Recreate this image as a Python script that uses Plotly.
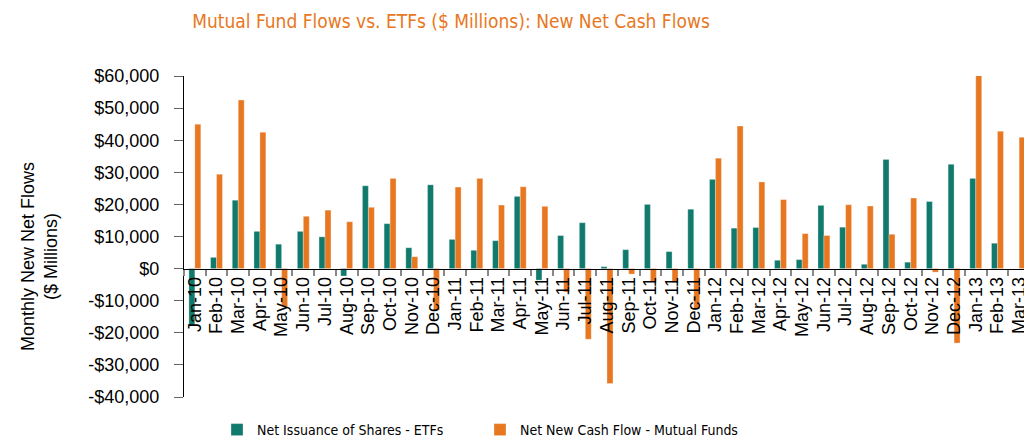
import plotly.graph_objects as go

months = ["Jan-10","Feb-10","Mar-10","Apr-10","May-10","Jun-10","Jul-10","Aug-10","Sep-10","Oct-10","Nov-10","Dec-10",
          "Jan-11","Feb-11","Mar-11","Apr-11","May-11","Jun-11","Jul-11","Aug-11","Sep-11","Oct-11","Nov-11","Dec-11",
          "Jan-12","Feb-12","Mar-12","Apr-12","May-12","Jun-12","Jul-12","Aug-12","Sep-12","Oct-12","Nov-12","Dec-12",
          "Jan-13","Feb-13","Mar-13"]

etf_flows = [-17650, 3500, 21300, 11600, 7600, 11600, 9900, -2300, 25800, 14000, 6500, 26100,
             9100, 5700, 8700, 22500, -3600, 10300, 14300, 600, 5900, 20000, 5300, 18500,
             27800, 12600, 12800, 2600, 2800, 19700, 12900, 1350, 34000, 2000, 20900, 32500,
             28100, 7900, None]

mf_flows = [45000, 29400, 52500, 42500, -11900, 16300, 18200, 14600, 19100, 28100, 3700, -13000,
            25400, 28100, 19800, 25500, 19400, -7300, -22000, -35800, -1700, -4200, -4300, -12500,
            34400, 44400, 27000, 21500, 10900, 10300, 19900, 19500, 10700, 22000, -1100, -23200,
            60200, 42800, 40900]

y_ticks = [60000, 50000, 40000, 30000, 20000, 10000, 0, -10000, -20000, -30000, -40000]
y_tick_labels = ["$60,000", "$50,000", "$40,000", "$30,000", "$20,000", "$10,000", "$0",
                 "-$10,000", "-$20,000", "-$30,000", "-$40,000"]

TEAL = "#107A6D"
ORANGE = "#E87722"
NARROW = "DejaVu Sans Condensed, Liberation Sans Narrow, Arial Narrow, sans-serif"

W, H = 1032, 440
L, R, T, B = 176, 10, 68, 51
PW = W - L - R
PH = H - T - B
PB = H - B  # plot bottom in container pixels

fig = go.Figure()
fig.add_trace(go.Bar(x=months, y=etf_flows, name="Net Issuance of Shares - ETFs",
                     marker=dict(color=TEAL, line=dict(color="rgba(255,255,255,0.5)", width=0.6))))
fig.add_trace(go.Bar(x=months, y=mf_flows, name="Net New Cash Flow - Mutual Funds",
                     marker=dict(color=ORANGE, line=dict(color="rgba(255,255,255,0.5)", width=0.6))))

fig.update_layout(
    width=W, height=H,
    margin=dict(l=L, r=R, t=T, b=B, autoexpand=False),
    paper_bgcolor="white", plot_bgcolor="white",
    barmode="group", bargap=0.45, bargroupgap=0,
    title=dict(text="Mutual Fund Flows vs. ETFs ($ Millions): New Net Cash Flows",
               font=dict(family=NARROW, size=19, color=ORANGE),
               x=443/W, xanchor="center", xref="container",
               y=1 - 13/H, yanchor="middle", yref="container"),
    font=dict(family="Liberation Sans, Arial", color="black"),
    showlegend=True,
    legend=dict(orientation="h", x=(209-L)/PW, xanchor="left", y=(PB-422)/PH, yanchor="middle",
                font=dict(family=NARROW, size=14, color="black"),
                entrywidth=218, entrywidthmode="pixels", itemwidth=30,
                bgcolor="rgba(0,0,0,0)"),
    xaxis=dict(type="category", anchor="free", position=0.4,
               tickmode="array", tickvals=months, ticktext=months,
               showline=True, linecolor="black", linewidth=1.2,
               ticks="outside", tickson="boundaries", ticklen=6, tickcolor="#888888", tickwidth=1.5,
               tickangle=-90, tickfont=dict(family="Liberation Sans", size=18, color="black"),
               showgrid=False, zeroline=False),
    yaxis=dict(range=[-40000, 60000], tickvals=y_ticks, ticktext=y_tick_labels,
               showline=True, linecolor="black", linewidth=1.2,
               ticks="outside", ticklen=9, tickcolor="#666666", ticklabelstandoff=11,
               tickfont=dict(family="Liberation Sans", size=18, color="black"),
               showgrid=False, zeroline=False),
    annotations=[dict(text="Monthly New Net Flows<br>($ Millions)", textangle=-90,
                      xref="paper", yref="paper", x=(32-L)/PW, y=(PB-249)/PH,
                      xanchor="center", yanchor="middle", showarrow=False,
                      font=dict(family="Liberation Sans", size=18, color="black"))],
)

fig.write_html("out.html")
